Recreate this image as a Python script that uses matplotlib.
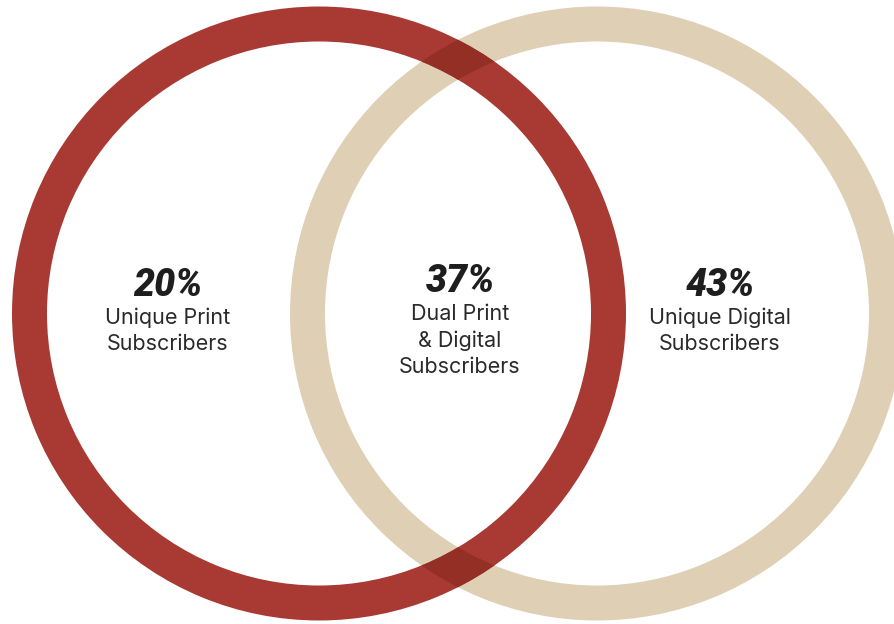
import matplotlib
matplotlib.use("Agg")
import matplotlib.pyplot as plt
from matplotlib.patches import Wedge

# subscriber shares
shares = ["20%", "37%", "43%"]
captions = ["Unique Print\nSubscribers",
            "Dual Print\n& Digital\nSubscribers",
            "Unique Digital\nSubscribers"]

red = "#a83a33"
tan = "#dfd0b5"


def multiply(c1, c2):
    a = matplotlib.colors.to_rgb(c1)
    b = matplotlib.colors.to_rgb(c2)
    return tuple(x * y for x, y in zip(a, b))


fig = plt.figure(figsize=(8.95, 6.24), dpi=100)
ax = fig.add_axes([0, 0, 1, 1])
ax.set_xlim(0, 895)
ax.set_ylim(624, 0)
ax.set_aspect("equal")
ax.axis("off")

r_out, width = 307, 35
left_c = (319, 313.5)
right_c = (597, 313.5)

print_ring = Wedge(left_c, r_out, 0, 360, width=width, color=red, lw=0)
digital_ring = Wedge(right_c, r_out, 0, 360, width=width, color=tan, lw=0)
ax.add_patch(digital_ring)
ax.add_patch(print_ring)

# darker where the two rings cross
overlap = Wedge(left_c, r_out, 0, 360, width=width,
                color=multiply(red, tan), lw=0)
ax.add_patch(overlap)
overlap.set_clip_path(digital_ring)

pos = [(168, 285), (460, 281), (720, 285)]
for (x, y), s, cap in zip(pos, shares, captions):
    ax.text(x, y, s, ha="center", va="center", fontsize=27,
            family="Roboto", weight="black", style="italic", color="#1e1e1e")
    ax.text(x, y + 23, cap, ha="center", va="top", fontsize=15.5,
            family="Inter", color="#2a2a2a", linespacing=1.37)

fig.savefig("out.png", dpi=100)
